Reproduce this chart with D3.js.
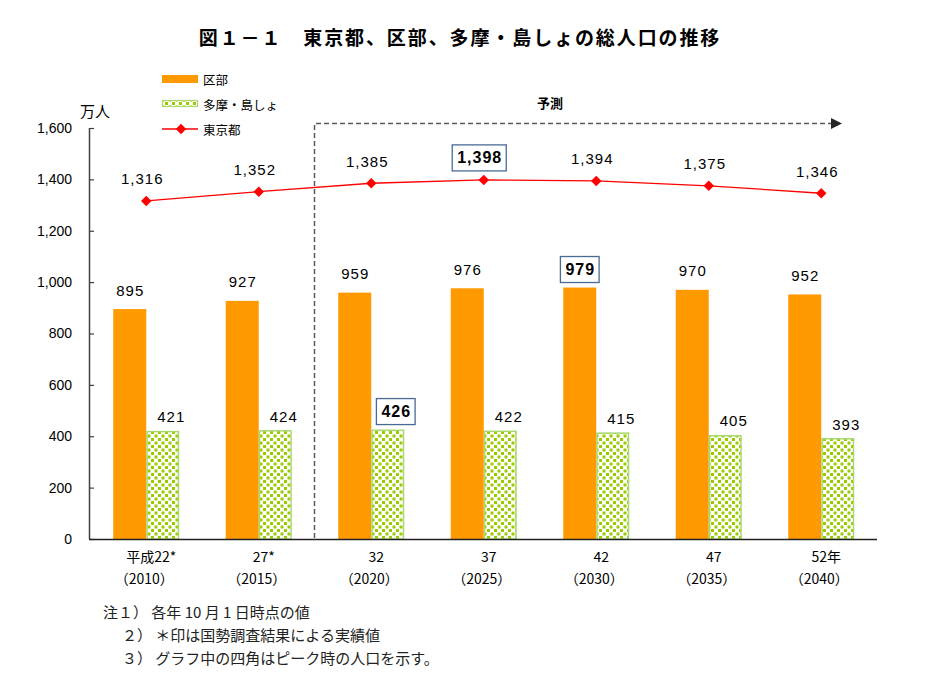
<!DOCTYPE html>
<html><head><meta charset="utf-8">
<script src="https://cdn.jsdelivr.net/npm/d3@7"></script>
<style>
body{margin:0;background:#fff;}
svg{display:block;}
</style></head>
<body><svg id="c" width="930" height="688"></svg>
<script>
const categories = ["平成22*","27*","32","37","42","47","52年"];
const years = ["（2010）","（2015）","（2020）","（2025）","（2030）","（2035）","（2040）"];
const kubu = [895,927,959,976,979,970,952];
const tama = [421,424,426,422,415,405,393];
const tokyo = [1316,1352,1385,1398,1394,1375,1346];
const yTicks = [0,200,400,600,800,1000,1200,1400,1600];
const seriesNames = ["区部","多摩・島しょ","東京都"];
const forecastStart = 2;
const notes = ["注１） 各年 10 月 1 日時点の値","２） ＊印は国勢調査結果による実績値","３） グラフ中の四角はピーク時の人口を示す。"];

const svg = d3.select("#c");
const ORANGE="#ff9900", GREEN="#99cc00", RED="#ff0000";
const numFont = "'Liberation Sans', Arial, sans-serif";
const jpFont = "'Noto Sans CJK JP', sans-serif";

const defs = svg.append("defs");
const pat = defs.append("pattern").attr("id","dots").attr("patternUnits","userSpaceOnUse")
  .attr("width",7).attr("height",7);
pat.append("rect").attr("width",7).attr("height",7).attr("fill","#fff");
pat.append("rect").attr("x",0.5).attr("y",0.5).attr("width",3).attr("height",3).attr("fill",GREEN);
pat.append("rect").attr("x",4).attr("y",4).attr("width",3).attr("height",3).attr("fill",GREEN);

const x = d3.scaleBand().domain(categories).range([90,877.5]).padding(0);
const y = d3.scaleLinear().domain([0,1600]).range([539,128]);
const bw = 33;
const cx = c => x(c) + x.bandwidth()/2;

// title
svg.append("text").attr("x",460).attr("y",45).attr("text-anchor","middle")
  .attr("font-family",jpFont).attr("font-weight","bold").attr("font-size",19)
  .attr("letter-spacing",1.9).text("図１－１　東京都、区部、多摩・島しょの総人口の推移");

// y axis
const yAxis = svg.append("g").attr("transform","translate(90,0)")
  .call(d3.axisLeft(y).tickValues(yTicks).tickSize(-4).tickPadding(18).tickFormat(d3.format(",")));
yAxis.select(".domain").attr("stroke","#404040").attr("stroke-width",1.5).attr("d","M-0.5,128V539");
yAxis.selectAll(".tick line").attr("stroke","#404040").attr("stroke-width",1.2);
yAxis.selectAll(".tick text").attr("font-family",numFont).attr("font-size",14).attr("fill","#000");

svg.append("text").attr("x",95).attr("y",117).attr("text-anchor","middle")
  .attr("font-family",jpFont).attr("font-size",15).text("万人");

// bars
svg.append("g").selectAll("rect").data(kubu).join("rect")
  .attr("x",(d,i)=>cx(categories[i])-bw).attr("y",d=>y(d)).attr("width",bw)
  .attr("height",d=>y(0)-y(d)).attr("fill",ORANGE);
svg.append("g").selectAll("rect").data(tama).join("rect")
  .attr("x",(d,i)=>cx(categories[i])+0.75).attr("y",d=>y(d)+0.75).attr("width",bw-1.5)
  .attr("height",d=>y(0)-y(d)-0.75).attr("fill","url(#dots)").attr("stroke","#a8d86e").attr("stroke-width",1.5);

// x axis line
svg.append("line").attr("x1",89).attr("x2",877).attr("y1",539.5).attr("y2",539.5)
  .attr("stroke","#202020").attr("stroke-width",1.5);

// x labels
const xl = svg.append("g").attr("font-family",jpFont).attr("font-size",14).attr("fill","#000");
categories.forEach((c,i)=>{
  xl.append("text").attr("x",cx(c)+5).attr("y",562).attr("text-anchor","middle").text(c);
  xl.append("text").attr("x",cx(c)-2).attr("y",584).attr("text-anchor","middle").text(years[i]);
});

// forecast dashed bracket
const fx = x(categories[forecastStart]) - 0.5;
svg.append("path").attr("d",`M${fx},538V123.5H832`).attr("fill","none")
  .attr("stroke","#595959").attr("stroke-width",1.5).attr("stroke-dasharray","5,3");
svg.append("path").attr("d","M831,118L842,123.5L831,129Z").attr("fill","#262626");
svg.append("text").attr("x",550).attr("y",108).attr("text-anchor","middle")
  .attr("font-family",jpFont).attr("font-size",13).attr("font-weight","bold").text("予測");

// line
const line = d3.line().x((d,i)=>cx(categories[i])).y(d=>y(d));
svg.append("path").datum(tokyo).attr("d",line).attr("fill","none").attr("stroke",RED).attr("stroke-width",1.3);
const diamond = d3.symbol().type(d3.symbolDiamond2).size(70);
svg.append("g").selectAll("path").data(tokyo).join("path")
  .attr("transform",(d,i)=>`translate(${cx(categories[i])},${y(d)})`).attr("d",diamond).attr("fill",RED);

// labels
const fmt = d3.format(",");
function label(val, px, py, peak){
  const g = svg.append("g");
  const t = g.append("text").attr("x",px).attr("y",py).attr("text-anchor","middle")
    .attr("dominant-baseline","central").attr("font-family",numFont)
    .attr("font-size",peak?16:15).attr("letter-spacing",1).attr("fill","#000")
    .attr("font-weight",peak?"bold":"normal").text(fmt(val));
  if(peak){
    const bb = t.node().getBBox();
    g.insert("rect","text").attr("x",bb.x-5).attr("y",py-13).attr("width",bb.width+9).attr("height",26)
      .attr("fill","#fff").attr("stroke","#4a6a96").attr("stroke-width",1.3);
  }
}
const pT = d3.maxIndex(tokyo), pK = d3.maxIndex(kubu), pG = d3.maxIndex(tama);
tokyo.forEach((d,i)=>label(d, cx(categories[i])-4, y(d)-22, i===pT));
kubu.forEach((d,i)=>label(d, cx(categories[i])-16, y(d)-(i===pK?18:19), i===pK));
tama.forEach((d,i)=>label(d, cx(categories[i])+25, y(d)-(i===pG?18:14), i===pG));

// legend
const lg = svg.append("g").attr("font-family",jpFont).attr("font-size",12.5);
lg.append("rect").attr("x",162).attr("y",75).attr("width",36).attr("height",8).attr("fill",ORANGE);
lg.append("text").attr("x",203).attr("y",79).attr("dominant-baseline","central").text(seriesNames[0]);
lg.append("rect").attr("x",162.5).attr("y",100.5).attr("width",35).attr("height",6).attr("fill","url(#dots)").attr("stroke","#a8d86e").attr("stroke-width",1.2);
lg.append("text").attr("x",203).attr("y",104).attr("dominant-baseline","central").text(seriesNames[1]);
lg.append("line").attr("x1",162).attr("x2",198).attr("y1",129).attr("y2",129).attr("stroke",RED).attr("stroke-width",1.3);
lg.append("path").attr("transform","translate(181,129)").attr("d",diamond).attr("fill",RED);
lg.append("text").attr("x",203).attr("y",129).attr("dominant-baseline","central").text(seriesNames[2]);

// notes
const nt = svg.append("g").attr("font-family",jpFont).attr("font-size",15).attr("fill","#222");
nt.append("text").attr("x",103).attr("y",618).text(notes[0]);
nt.append("text").attr("x",122).attr("y",641).text(notes[1]);
nt.append("text").attr("x",122).attr("y",664).text(notes[2]);
</script></body></html>
